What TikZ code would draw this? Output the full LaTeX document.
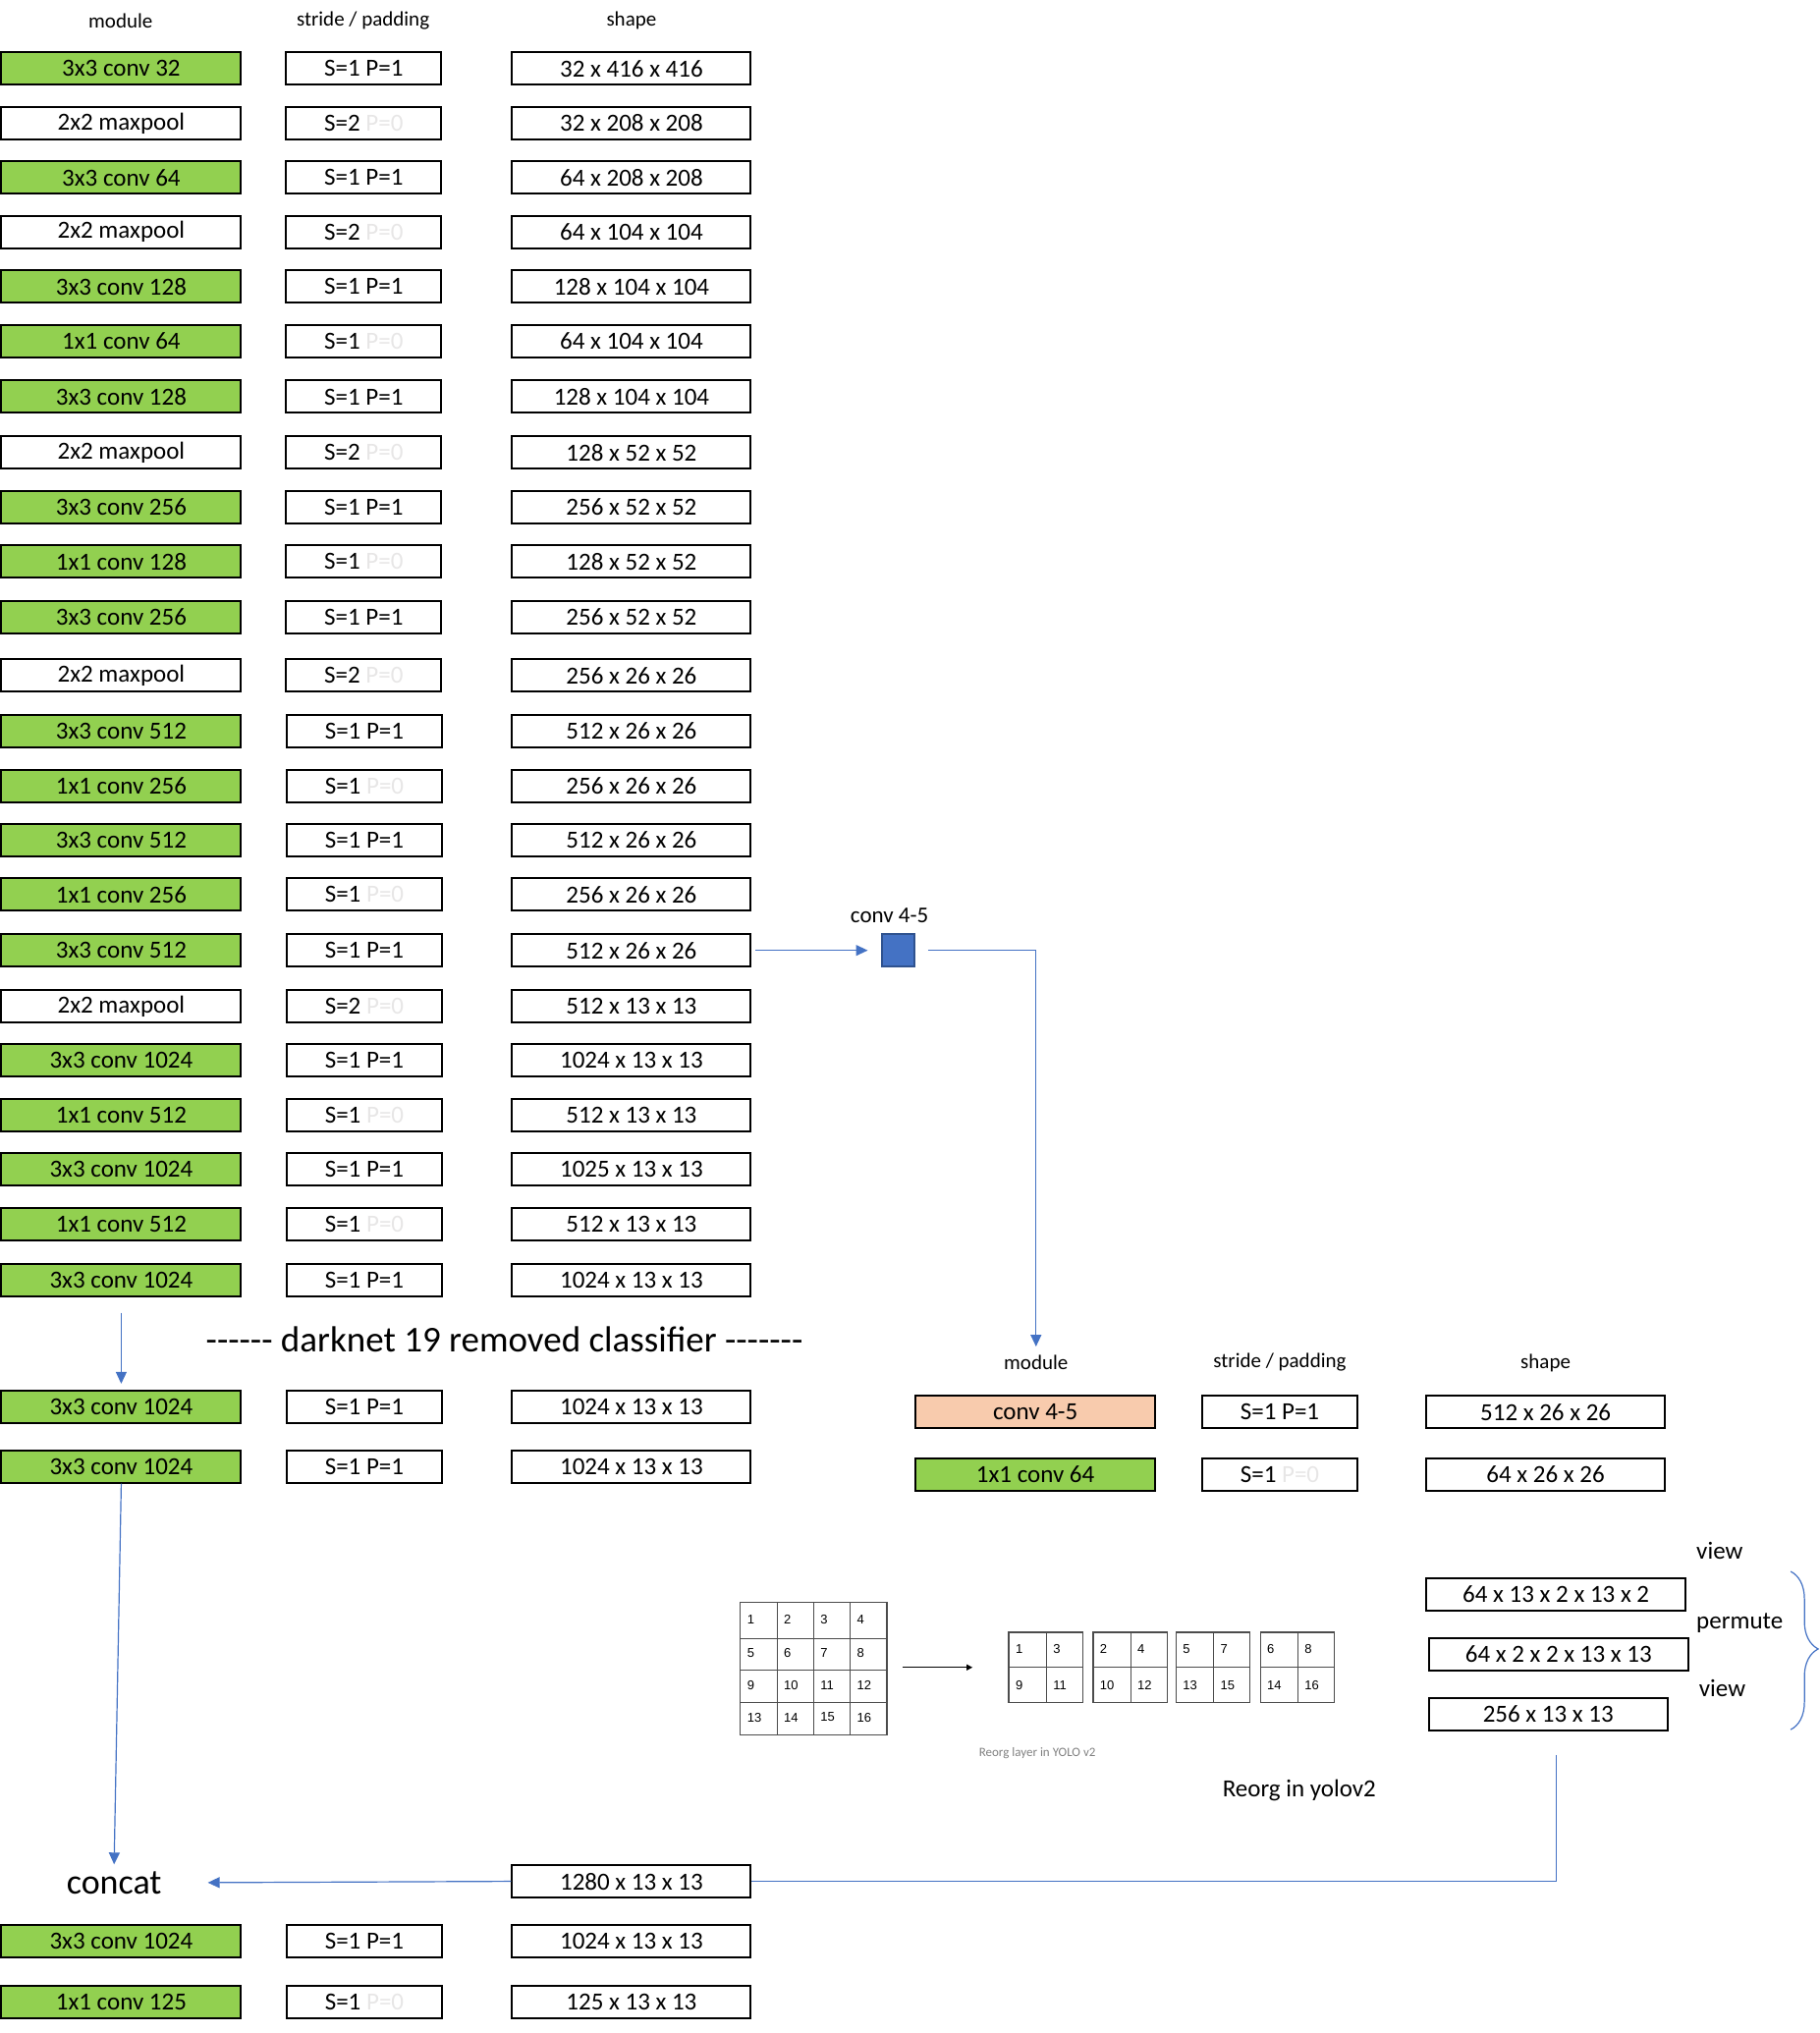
\documentclass[tikz,border=0pt]{standalone}
\usepackage{fontspec}
\setmainfont{Carlito}[Ligatures=TeXOff]
\newfontfamily\arialfont{Liberation Sans}
\usetikzlibrary{arrows.meta,decorations.pathreplacing}

\definecolor{convgreen}{HTML}{92D050}
\definecolor{featpeach}{HTML}{F8CBAD}
\definecolor{linkblue}{HTML}{4472C4}
\definecolor{sqborder}{HTML}{2F528F}
\definecolor{pzgray}{HTML}{E7E6E6}
\definecolor{capgray}{HTML}{808080}
\newcommand{\pzero}{\textcolor{pzgray}{P=0}}

\tikzset{
  layerbox/.style={draw, line width=1pt, inner sep=0pt, minimum height=16.5pt,
    font=\fontsize{12.5}{15}\selectfont},
  modbox/.style={layerbox, minimum width=122pt},
  convbox/.style={modbox, fill=convgreen},
  stridebox/.style={layerbox, minimum width=79pt},
  dimbox/.style={layerbox, minimum width=121.5pt},
  colhead/.style={font=\fontsize{10.5}{12}\selectfont},
  sidetext/.style={font=\fontsize{12.5}{15}\selectfont},
  bluelink/.style={linkblue, line width=0.6pt},
  bluearrow/.style={bluelink, -{Triangle[length=6pt,width=5.5pt]}},
  gridline/.style={draw=black!70, line width=0.6pt},
  cellnum/.style={anchor=west, inner sep=0pt, font=\arialfont\fontsize{6.5}{8}\selectfont},
}

\begin{document}
\begin{tikzpicture}[x=0.66pt, y=-0.66pt]
  \useasboundingbox (0,0) rectangle (1403,1568);

  \node[colhead] (hmod) at (93,16) {module};
  \node[colhead] (hstr) at (280,16) {stride / padding};
  \node[colhead] (hdim) at (487,16) {shape};

  \node[convbox] (m1) at (93.5,53) {3x3 conv 32};     \node[stridebox] (s1) at (280.5,53) {S=1 P=1};    \node[dimbox] (d1) at (487,53) {32 x 416 x 416};
  \node[modbox] (m2) at (93.5,95) {2x2 maxpool};      \node[stridebox] (s2) at (280.5,95) {S=2 \pzero}; \node[dimbox] (d2) at (487,95) {32 x 208 x 208};
  \node[convbox] (m3) at (93.5,137) {3x3 conv 64};    \node[stridebox] (s3) at (280.5,137) {S=1 P=1};   \node[dimbox] (d3) at (487,137) {64 x 208 x 208};
  \node[modbox] (m4) at (93.5,179) {2x2 maxpool};     \node[stridebox] (s4) at (280.5,179) {S=2 \pzero};\node[dimbox] (d4) at (487,179) {64 x 104 x 104};
  \node[convbox] (m5) at (93.5,221) {3x3 conv 128};   \node[stridebox] (s5) at (280.5,221) {S=1 P=1};   \node[dimbox] (d5) at (487,221) {128 x 104 x 104};
  \node[convbox] (m6) at (93.5,263) {1x1 conv 64};    \node[stridebox] (s6) at (280.5,263) {S=1 \pzero};\node[dimbox] (d6) at (487,263) {64 x 104 x 104};
  \node[convbox] (m7) at (93.5,306) {3x3 conv 128};   \node[stridebox] (s7) at (280.5,306) {S=1 P=1};   \node[dimbox] (d7) at (487,306) {128 x 104 x 104};
  \node[modbox] (m8) at (93.5,349) {2x2 maxpool};     \node[stridebox] (s8) at (280.5,349) {S=2 \pzero};\node[dimbox] (d8) at (487,349) {128 x 52 x 52};
  \node[convbox] (m9) at (93.5,391) {3x3 conv 256};   \node[stridebox] (s9) at (280.5,391) {S=1 P=1};   \node[dimbox] (d9) at (487,391) {256 x 52 x 52};
  \node[convbox] (m10) at (93.5,433) {1x1 conv 128};  \node[stridebox] (s10) at (280.5,433) {S=1 \pzero};\node[dimbox] (d10) at (487,433) {128 x 52 x 52};
  \node[convbox] (m11) at (93.5,476) {3x3 conv 256};  \node[stridebox] (s11) at (280.5,476) {S=1 P=1};   \node[dimbox] (d11) at (487,476) {256 x 52 x 52};
  \node[modbox] (m12) at (93.5,521) {2x2 maxpool};    \node[stridebox] (s12) at (280.5,521) {S=2 \pzero};\node[dimbox] (d12) at (487,521) {256 x 26 x 26};
  \node[convbox] (m13) at (93.5,564) {3x3 conv 512};  \node[stridebox] (s13) at (281,564) {S=1 P=1};     \node[dimbox] (d13) at (487,564) {512 x 26 x 26};
  \node[convbox] (m14) at (93.5,606) {1x1 conv 256};  \node[stridebox] (s14) at (281,606) {S=1 \pzero};  \node[dimbox] (d14) at (487,606) {256 x 26 x 26};
  \node[convbox] (m15) at (93.5,648) {3x3 conv 512};  \node[stridebox] (s15) at (281,648) {S=1 P=1};     \node[dimbox] (d15) at (487,648) {512 x 26 x 26};
  \node[convbox] (m16) at (93.5,690) {1x1 conv 256};  \node[stridebox] (s16) at (281,690) {S=1 \pzero};  \node[dimbox] (d16) at (487,690) {256 x 26 x 26};
  \node[convbox] (m17) at (93.5,733) {3x3 conv 512};  \node[stridebox] (s17) at (281,733) {S=1 P=1};     \node[dimbox] (d17) at (487,733) {512 x 26 x 26};
  \node[modbox] (m18) at (93.5,776) {2x2 maxpool};    \node[stridebox] (s18) at (281,776) {S=2 \pzero};  \node[dimbox] (d18) at (487,776) {512 x 13 x 13};
  \node[convbox] (m19) at (93.5,818) {3x3 conv 1024}; \node[stridebox] (s19) at (281,818) {S=1 P=1};     \node[dimbox] (d19) at (487,818) {1024 x 13 x 13};
  \node[convbox] (m20) at (93.5,860) {1x1 conv 512};  \node[stridebox] (s20) at (281,860) {S=1 \pzero};  \node[dimbox] (d20) at (487,860) {512 x 13 x 13};
  \node[convbox] (m21) at (93.5,902) {3x3 conv 1024}; \node[stridebox] (s21) at (281,902) {S=1 P=1};     \node[dimbox] (d21) at (487,902) {1025 x 13 x 13};
  \node[convbox] (m22) at (93.5,944) {1x1 conv 512};  \node[stridebox] (s22) at (281,944) {S=1 \pzero};  \node[dimbox] (d22) at (487,944) {512 x 13 x 13};
  \node[convbox] (m23) at (93.5,987) {3x3 conv 1024}; \node[stridebox] (s23) at (281,987) {S=1 P=1};     \node[dimbox] (d23) at (487,987) {1024 x 13 x 13};

  \node[font=\fontsize{18.5}{22}\selectfont] (sep) at (389,1033) {------ darknet 19 removed classifier -------};

  \node[convbox] (m24) at (93.5,1085) {3x3 conv 1024}; \node[stridebox] (s24) at (281,1085) {S=1 P=1}; \node[dimbox] (d24) at (487,1085) {1024 x 13 x 13};
  \node[convbox] (m25) at (93.5,1131) {3x3 conv 1024}; \node[stridebox] (s25) at (281,1131) {S=1 P=1}; \node[dimbox] (d25) at (487,1131) {1024 x 13 x 13};

  \node[font=\fontsize{18}{21}\selectfont, minimum width=95pt] (concat) at (88,1452) {concat};
  \node[dimbox] (d1280) at (487,1451) {1280 x 13 x 13};
  \node[convbox] (m26) at (93.5,1497) {3x3 conv 1024}; \node[stridebox] (s26) at (281,1497) {S=1 P=1};    \node[dimbox] (d26) at (487,1497) {1024 x 13 x 13};
  \node[convbox] (m27) at (93.5,1544) {1x1 conv 125};  \node[stridebox] (s27) at (281,1544) {S=1 \pzero}; \node[dimbox] (d27) at (487,1544) {125 x 13 x 13};

  \node[draw=sqborder, fill=linkblue, line width=1pt, minimum size=16.5pt, inner sep=0pt] (sq) at (692.5,733) {};
  \node[font=\fontsize{11.5}{13}\selectfont] (sqlabel) at (686,706) {conv 4-5};

  \node[colhead] (hmod2) at (799,1051) {module};
  \node[colhead] (hstr2) at (987,1051) {stride / padding};
  \node[colhead] (hdim2) at (1192,1051) {shape};
  \node[modbox, fill=featpeach] (p1) at (798.5,1089) {conv 4-5}; \node[stridebox] (ps1) at (987,1089) {S=1 P=1};    \node[dimbox] (pd1) at (1192,1089) {512 x 26 x 26};
  \node[convbox] (p2) at (798.5,1137) {1x1 conv 64};             \node[stridebox] (ps2) at (987,1137) {S=1 \pzero}; \node[dimbox] (pd2) at (1192,1137) {64 x 26 x 26};

  \node[layerbox, minimum width=132pt] (r1) at (1200,1229.5) {64 x 13 x 2 x 13 x 2};
  \node[layerbox, minimum width=132pt] (r2) at (1202,1276) {64 x 2 x 2 x 13 x 13};
  \node[dimbox] (r256) at (1194,1322) {256 x 13 x 13};
  \node[sidetext, anchor=west] (view1) at (1303,1196) {view};
  \node[sidetext, anchor=west] (perm) at (1303,1252) {permute};
  \node[sidetext, anchor=west] (view2) at (1305,1302) {view};
  \draw[bluelink, decorate, decoration={brace, amplitude=14pt, aspect=0.49}] (1381,1212) -- (1381,1334);

  \foreach \r/\ya/\yb in {0/1236/1264, 1/1264/1288, 2/1288/1313, 3/1313/1338} {
    \foreach \q in {0,...,3} {
      \pgfmathtruncatemacro\n{4*\r+\q+1}
      \draw[gridline] (571+28.25*\q,\ya) rectangle (599.25+28.25*\q,\yb);
      \node[cellnum] (g\n) at (576+28.25*\q,{(\ya+\yb)/2-1}) {\n};
    }
  }
  \foreach \gx/\na/\nb/\nc/\nd in {778/1/3/9/11, 843/2/4/10/12, 907/5/7/13/15, 972/6/8/14/16} {
    \draw[gridline] (\gx,1259) rectangle (\gx+57,1313);
    \draw[gridline] (\gx+29,1259) -- (\gx+29,1313);
    \draw[gridline] (\gx,1286) -- (\gx+57,1286);
    \node[cellnum] (t\na) at (\gx+5,1272) {\na};
    \node[cellnum] (t\nb) at (\gx+34,1272) {\nb};
    \node[cellnum] (t\nc) at (\gx+5,1300) {\nc};
    \node[cellnum] (t\nd) at (\gx+34,1300) {\nd};
  }
  \coordinate (gridout) at (696,1286);
  \coordinate (gridin) at (750,1286);
  \draw[line width=0.6pt, -{Triangle[length=3pt,width=3pt]}] (gridout) -- (gridin);
  \node[text=capgray, font=\fontsize{6.5}{8}\selectfont] (reorgcap) at (800,1352) {Reorg layer in YOLO v2};
  \node[sidetext] (reorgtitle) at (1002,1381) {Reorg in yolov2};

  \draw[bluearrow, shorten <=2pt, shorten >=6.6pt] (d17.east) -- (sq.west);
  \draw[bluearrow, shorten <=6.6pt, shorten >=1pt] (sq.east) -| (hmod2.north);
  \draw[bluearrow, shorten <=8pt, shorten >=3pt] (m23.south) -- (m24.north);
  \draw[bluearrow] (m25.south) -- (concat.north);
  \draw[bluearrow] (d1280.west) -- (concat.east);
  \draw[bluelink, shorten <=12pt] ([xshift=4pt]r256.south) |- (d1280.east);
\end{tikzpicture}
\end{document}
